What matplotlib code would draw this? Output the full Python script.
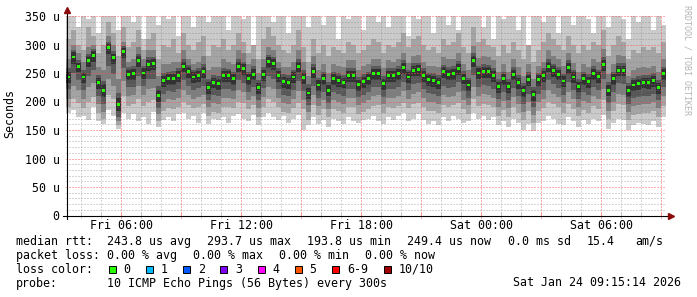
import numpy as np
import matplotlib
matplotlib.use("Agg")
import matplotlib.pyplot as plt
from matplotlib.patches import Rectangle
import matplotlib.transforms as mtransforms

# hours counted from Fri 00:00, one column per 15 minutes (03:15 .. 09:15 next day)
start_hour = 3.25
step = 0.25

# median rtt in microseconds
median = [243, 278, 262, 243, 272, 281, 233, 220, 294, 277, 194, 287, 248, 249, 272, 250, 265, 266, 210, 237,
          240, 240, 246, 262, 252, 243, 246, 252, 225, 234, 232, 246, 245, 240, 262, 258, 240, 248, 225, 247,
          270, 266, 245, 235, 233, 243, 262, 242, 215, 253, 229, 240, 220, 240, 237, 234, 245, 246, 230, 235,
          240, 249, 249, 231, 246, 245, 249, 259, 243, 255, 256, 245, 238, 237, 233, 252, 248, 249, 258, 241,
          229, 272, 250, 253, 252, 246, 226, 240, 226, 248, 233, 219, 238, 212, 238, 245, 262, 254, 248, 236,
          259, 243, 227, 240, 235, 249, 244, 265, 220, 240, 255, 255, 219, 229, 231, 234, 233, 237, 225, 249]

# the ten sorted pings per column (smoke), ping1 = fastest, ping10 = slowest
ping10 = [360, 360, 330, 360, 345, 360, 320, 360, 360, 350, 325, 360, 360, 340, 360, 310, 360, 360, 335, 360,
          345, 360, 315, 360, 360, 330, 360, 360, 340, 360, 360, 360, 325, 360, 360, 345, 360, 300, 360, 360,
          360, 340, 360, 360, 320, 360, 360, 350, 330, 360, 360, 335, 360, 360, 310, 360, 345, 360, 360, 325,
          360, 360, 340, 360, 330, 360, 360, 360, 315, 360, 345, 360, 360, 320, 360, 360, 335, 360, 325, 360,
          350, 360, 360, 330, 360, 310, 360, 345, 360, 360, 325, 360, 300, 360, 360, 340, 360, 360, 320, 360,
          360, 335, 360, 360, 345, 320, 360, 360, 330, 360, 360, 345, 310, 360, 340, 360, 360, 325, 360, 335]
ping9 = [310, 325, 300, 290, 330, 315, 285, 300, 340, 320, 280, 330, 295, 305, 325, 290, 310, 320, 275, 300,
         295, 310, 285, 320, 300, 290, 305, 315, 280, 300, 295, 310, 290, 300, 320, 305, 285, 300, 275, 310,
         330, 315, 300, 290, 285, 300, 325, 295, 270, 310, 285, 300, 280, 295, 290, 285, 305, 300, 285, 290,
         300, 310, 305, 285, 300, 295, 305, 320, 295, 310, 315, 300, 290, 295, 285, 310, 300, 305, 320, 295,
         285, 330, 305, 310, 300, 295, 280, 300, 285, 305, 290, 275, 300, 270, 290, 305, 320, 310, 300, 290,
         315, 300, 285, 300, 290, 305, 300, 325, 280, 300, 315, 305, 275, 290, 285, 295, 290, 295, 285, 305]
ping8 = [275, 300, 285, 270, 295, 300, 260, 255, 315, 300, 240, 305, 270, 275, 295, 275, 290, 290, 245, 265,
         265, 270, 270, 290, 275, 265, 270, 280, 255, 260, 260, 275, 270, 265, 290, 285, 265, 275, 250, 275,
         295, 290, 270, 260, 260, 270, 290, 270, 245, 280, 255, 265, 250, 265, 262, 260, 272, 272, 255, 262,
         265, 275, 275, 258, 272, 270, 275, 285, 268, 280, 282, 270, 262, 262, 260, 278, 274, 275, 285, 266,
         255, 298, 276, 280, 278, 272, 252, 266, 252, 274, 260, 245, 265, 240, 262, 270, 290, 280, 274, 262,
         285, 268, 252, 266, 260, 275, 270, 292, 248, 266, 282, 280, 245, 255, 258, 260, 258, 262, 252, 275]
ping7 = [258, 290, 272, 255, 284, 292, 246, 236, 304, 288, 215, 298, 260, 262, 284, 262, 278, 278, 228, 250,
         252, 254, 258, 275, 264, 255, 258, 265, 240, 246, 245, 258, 257, 252, 275, 270, 252, 262, 238, 260,
         282, 278, 258, 248, 246, 256, 275, 255, 230, 266, 242, 252, 234, 252, 250, 246, 258, 258, 243, 248,
         252, 262, 262, 244, 258, 258, 262, 272, 256, 268, 268, 258, 250, 250, 246, 264, 260, 262, 271, 254,
         242, 285, 262, 266, 264, 258, 240, 252, 240, 260, 246, 232, 251, 226, 250, 258, 275, 266, 260, 249,
         272, 255, 240, 252, 248, 262, 256, 278, 234, 252, 268, 267, 232, 242, 244, 247, 246, 250, 238, 261]
ping6 = [252, 286, 268, 250, 280, 289, 242, 230, 301, 284, 206, 294, 256, 257, 280, 258, 273, 274, 220, 245,
         248, 249, 254, 270, 260, 251, 254, 260, 234, 242, 240, 254, 253, 248, 270, 266, 248, 257, 233, 255,
         278, 274, 253, 243, 242, 251, 270, 250, 224, 261, 237, 248, 229, 248, 245, 242, 253, 254, 238, 243,
         248, 257, 257, 239, 254, 253, 257, 267, 251, 263, 264, 253, 246, 245, 241, 260, 256, 257, 266, 249,
         237, 280, 258, 261, 260, 254, 235, 248, 235, 256, 241, 227, 246, 221, 246, 253, 270, 262, 256, 244,
         267, 251, 235, 248, 243, 257, 252, 273, 229, 248, 263, 263, 227, 237, 239, 242, 241, 245, 233, 257]
ping5 = [232, 266, 251, 232, 260, 269, 222, 208, 283, 266, 184, 276, 237, 238, 261, 239, 253, 255, 199, 226,
         229, 229, 235, 251, 241, 232, 235, 241, 214, 223, 221, 235, 234, 229, 251, 247, 229, 237, 214, 236,
         259, 255, 234, 224, 222, 232, 251, 231, 204, 242, 218, 229, 209, 229, 226, 223, 234, 235, 219, 224,
         229, 238, 238, 220, 235, 234, 238, 248, 232, 244, 245, 234, 227, 226, 222, 241, 237, 238, 247, 230,
         218, 261, 239, 242, 241, 235, 215, 229, 215, 237, 222, 208, 227, 201, 227, 234, 251, 243, 237, 225,
         248, 232, 216, 229, 224, 238, 233, 254, 209, 229, 244, 244, 208, 218, 220, 223, 222, 226, 214, 238]
ping4 = [222, 250, 238, 220, 245, 255, 210, 195, 262, 248, 172, 258, 225, 226, 245, 228, 240, 240, 188, 214,
         218, 216, 222, 238, 228, 220, 224, 228, 202, 212, 210, 222, 222, 218, 238, 232, 216, 225, 202, 224,
         244, 240, 222, 212, 210, 220, 236, 218, 194, 228, 206, 216, 198, 216, 214, 210, 222, 222, 208, 212,
         216, 225, 226, 208, 222, 222, 226, 234, 220, 230, 232, 222, 215, 214, 210, 228, 224, 226, 234, 218,
         206, 246, 226, 229, 228, 222, 204, 216, 202, 224, 210, 196, 214, 190, 214, 220, 238, 230, 224, 212,
         234, 220, 204, 216, 212, 226, 220, 240, 198, 216, 232, 230, 196, 206, 208, 210, 210, 214, 202, 226]
ping3 = [205, 228, 220, 205, 225, 232, 195, 182, 240, 228, 165, 236, 210, 212, 228, 212, 222, 224, 178, 200,
         204, 202, 206, 220, 212, 205, 208, 212, 190, 198, 196, 206, 206, 204, 220, 216, 202, 210, 188, 208,
         226, 222, 206, 198, 196, 204, 218, 202, 182, 212, 192, 202, 186, 202, 200, 196, 206, 207, 194, 198,
         202, 210, 211, 195, 207, 206, 210, 218, 205, 214, 216, 206, 200, 200, 196, 212, 208, 210, 217, 203,
         193, 226, 210, 213, 212, 207, 190, 201, 188, 208, 196, 182, 200, 176, 200, 205, 220, 214, 208, 197,
         216, 204, 190, 201, 197, 210, 205, 222, 184, 200, 214, 212, 182, 192, 194, 196, 196, 199, 188, 210]
ping2 = [190, 205, 198, 188, 200, 208, 180, 170, 212, 205, 158, 210, 192, 195, 205, 192, 200, 202, 165, 184,
         188, 186, 190, 200, 194, 188, 190, 195, 175, 182, 180, 190, 190, 188, 200, 197, 186, 193, 172, 190,
         205, 200, 190, 182, 180, 188, 198, 186, 168, 194, 176, 186, 172, 186, 184, 180, 190, 190, 178, 182,
         186, 192, 194, 180, 190, 189, 192, 198, 188, 195, 197, 190, 184, 184, 180, 194, 191, 193, 198, 186,
         178, 205, 192, 195, 194, 190, 175, 185, 172, 190, 180, 168, 184, 162, 184, 188, 200, 195, 190, 180,
         196, 186, 174, 185, 180, 192, 187, 202, 170, 184, 195, 193, 168, 176, 178, 180, 180, 183, 172, 192]
ping1 = [180, 185, 172, 175, 168, 190, 165, 160, 185, 175, 152, 180, 170, 178, 165, 172, 160, 182, 155, 168,
         172, 165, 178, 180, 170, 175, 162, 180, 160, 170, 168, 172, 162, 175, 178, 170, 165, 176, 158, 172,
         180, 172, 168, 174, 162, 170, 176, 150, 158, 172, 160, 168, 155, 170, 166, 160, 172, 165, 162, 168,
         170, 175, 165, 160, 172, 168, 175, 180, 165, 170, 178, 168, 160, 166, 158, 172, 165, 175, 170, 162,
         165, 180, 170, 175, 168, 172, 158, 166, 155, 170, 162, 150, 160, 148, 162, 166, 175, 170, 160, 158,
         172, 165, 155, 168, 160, 170, 165, 176, 152, 162, 170, 168, 150, 158, 162, 160, 158, 165, 155, 172]

tick_hours = [6, 12, 18, 24, 30]
tick_labels = ["Fri 06:00", "Fri 12:00", "Fri 18:00", "Sat 00:00", "Sat 06:00"]
ytick_vals = [0, 50, 100, 150, 200, 250, 300, 350]
ytick_labels = ["0", "50 u", "100 u", "150 u", "200 u", "250 u", "300 u", "350 u"]

loss_labels = ["0", "1", "2", "3", "4", "5", "6-9", "10/10"]
loss_colors = ["#26ff00", "#00b8ff", "#0059ff", "#7e00ff", "#ff00ff", "#ff5500", "#ff0000", "#a10000"]

W, H = 697, 297
plt.rcParams["font.family"] = "DejaVu Sans Mono"
FS = 8.4
MINOR = (0.5, 0.5, 0.5, 0.32)
MAJOR = (1.0, 0.3, 0.3, 0.45)

fig = plt.figure(figsize=(W / 100, H / 100), dpi=100)
fig.patch.set_facecolor("white")
# plot area in pixels: x 66..666, y 16..215.5
ax = fig.add_axes([66 / W, (H - 215.5) / H, 600 / W, 199.5 / H])
ax.set_facecolor("white")

n = len(median)
edges = start_hour + step * np.arange(n + 1)
x = edges[:-1]

smoke = [(ping1, ping10, "#cacaca"), (ping2, ping9, "#a4a4a4"), (ping3, ping8, "#7e7e7e"),
         (ping4, ping7, "#585858"), (ping5, ping6, "#323232")]
for lo, hi, col in smoke:
    ax.stairs(hi, edges, baseline=lo, fill=True, color=col, lw=0, zorder=1)

med = np.array(median)
ax.bar(x + step / 2, 5, bottom=med - 2.5, width=0.14, color=loss_colors[0], lw=0, zorder=4)

ax.set_xlim(start_hour, start_hour + step * n)
ax.set_ylim(0, 350)

# dotted grid, drawn over the smoke like rrdtool does
dot = (0, (1.4, 1.4))
for v in range(10, 351, 10):
    ax.axhline(v, color=MAJOR if v % 50 == 0 else MINOR, lw=0.72, ls=dot,
               antialiased=False, zorder=3)
trans = mtransforms.blended_transform_factory(ax.transData, ax.transAxes)
for h in range(4, 34):
    c = MAJOR if h % 3 == 0 else MINOR
    ax.axvline(h, color=c, lw=0.72, ls=dot, antialiased=False, zorder=3)
    ax.plot([h, h], [-0.012, 0.012], transform=trans, color=c, lw=0.72, clip_on=False, zorder=5)

for s in ax.spines.values():
    s.set_visible(False)

ax.set_xticks(tick_hours)
ax.set_xticklabels(tick_labels, fontsize=FS)
ax.set_yticks(ytick_vals)
ax.set_yticklabels(ytick_labels, fontsize=FS)
ax.tick_params(axis="x", length=0, pad=2.5)
ax.tick_params(axis="y", length=0, pad=4.6)


def fx(px):
    return px / W


def fy(py):
    return 1 - py / H


# axes lines with arrows
fig.add_artist(plt.Line2D([fx(63), fx(669)], [fy(215.5), fy(215.5)], color="black", lw=0.8))
fig.add_artist(plt.Line2D([fx(66.5), fx(66.5)], [fy(218.5), fy(10)], color="black", lw=0.8))
fig.add_artist(plt.Line2D([fx(671)], [fy(215.5)], marker=">", ms=4, color="#8b0a0a", lw=0))
fig.add_artist(plt.Line2D([fx(66.5)], [fy(10)], marker="^", ms=4, color="#8b0a0a", lw=0))

fig.text(fx(10), fy(114), "Seconds", rotation=90, ha="center", va="center", fontsize=FS)
fig.text(fx(687.5), fy(60), "RRDTOOL / TOBI OETIKER", rotation=270, ha="center", va="center",
         fontsize=6, color="#b4b4b4")

# legend lines
rows = [
    (241.3, [("median rtt:", 16), ("243.8 us avg", 107.3), ("293.7 us max", 207.1), ("193.8 us min", 306.7),
             ("249.4 us now", 406.7), ("0.0 ms sd", 507.7), ("15.4", 586.7), ("am/s", 635.6)]),
    (255.3, [("packet loss:", 16), ("0.00 % avg", 107.3), ("0.00 % max", 193.3), ("0.00 % min", 279.1),
             ("0.00 % now", 365.3)]),
    (283.0, [("probe:", 16), ("10 ICMP Echo Pings (56 Bytes) every 300s", 107.3),
             ("Sat Jan 24 09:15:14 2026", 513.3)]),
]
for yy, parts in rows:
    for txt, xx in parts:
        fig.text(fx(xx), fy(yy), txt, ha="left", va="center", fontsize=FS)

fig.text(fx(16), fy(269.3), "loss color:", ha="left", va="center", fontsize=FS)
bx = 108.5
for lab, col in zip(loss_labels, loss_colors):
    fig.add_artist(Rectangle((fx(bx), fy(273)), 7 / W, 7.5 / H, facecolor=col, edgecolor="black",
                             lw=0.7, transform=fig.transFigure))
    fig.text(fx(bx + 14.6), fy(269.3), lab, ha="left", va="center", fontsize=FS)
    bx += 14.6 + 7 * len(lab) + 15.7

fig.savefig("out.png", dpi=100, facecolor="white")
